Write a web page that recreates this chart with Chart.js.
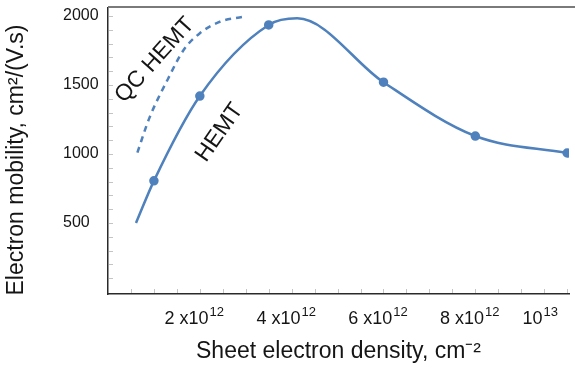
<!DOCTYPE html>
<html>
<head>
<meta charset="utf-8">
<script src="https://cdn.jsdelivr.net/npm/chart.js@4"></script>
<style>
  html, body { margin: 0; padding: 0; background: #fff; }
  #wrap { width: 575px; height: 375px; }
</style>
</head>
<body>
<div id="wrap"><canvas id="mobilityChart"></canvas></div>
<script>
// sheet density in units of 1e12 cm^-2, mobility in cm2/(V.s)
const hemtDensity = [0.61, 1.0, 2.0, 3.5, 4.12, 6.0, 8.0, 10.0];
const hemtMobility = [500, 805, 1420, 1935, 1983, 1520, 1130, 1007];
const hemtMarked = [false, true, true, true, false, true, true, true];
const qcDensity = [0.64, 0.9, 1.3, 1.65, 2.0, 2.45, 2.95];
const qcMobility = [1010, 1260, 1540, 1755, 1875, 1960, 1995];
const yTicks = [500, 1000, 1500, 2000];
const xTicks = [2, 4, 6, 8, 10];
const xTickLabels = [['2 x10', '12'], ['4 x10', '12'], ['6 x10', '12'], ['8 x10', '12'], ['10', '13']];
const yTitle = 'Electron mobility, cm²/(V.s)';

const blue = '#4F81BD';
const ink = '#151515';
const family = '"Liberation Sans", Arial, sans-serif';

const decorations = {
    id: 'decorations',
    afterDraw(chart) {
        const { ctx, chartArea, scales: { x, y } } = chart;
        ctx.save();

        // grey top frame line
        ctx.strokeStyle = '#7a7a7a';
        ctx.lineWidth = 2;
        ctx.beginPath();
        ctx.moveTo(chartArea.left, chartArea.top - 1);
        ctx.lineTo(chart.width, chartArea.top - 1);
        ctx.stroke();

        // faint inward minor ticks
        ctx.strokeStyle = '#c4c4c4';
        ctx.lineWidth = 1;
        ctx.beginPath();
        for (let v = 0.5; v <= 10; v += 0.5) {
            const px = Math.round(x.getPixelForValue(v)) + 0.5;
            ctx.moveTo(px, chartArea.bottom - 1);
            ctx.lineTo(px, chartArea.bottom - 5);
        }
        for (let v = 100; v <= 2000; v += 100) {
            const py = Math.round(y.getPixelForValue(v)) + 0.5;
            ctx.moveTo(chartArea.left + 1, py);
            ctx.lineTo(chartArea.left + 5, py);
        }
        ctx.stroke();

        // x tick labels with superscript exponent
        ctx.fillStyle = ink;
        ctx.textBaseline = 'alphabetic';
        ctx.textAlign = 'left';
        xTicks.forEach((v, i) => {
            const [base, sup] = xTickLabels[i];
            ctx.font = '18px ' + family;
            const wBase = ctx.measureText(base).width;
            ctx.font = '13px ' + family;
            const wSup = ctx.measureText(sup).width;
            const total = wBase + wSup;
            let left = x.getPixelForValue(v) - 6 - total / 2;
            if (i === xTicks.length - 1) left = chartArea.right - 12 - total;
            ctx.font = '18px ' + family;
            ctx.fillText(base, left, chartArea.bottom + 30);
            ctx.font = '13px ' + family;
            ctx.fillText(sup, left + wBase + 1, chartArea.bottom + 22);
        });

        // y axis title
        ctx.font = '23px ' + family;
        ctx.textAlign = 'center';
        ctx.textBaseline = 'middle';
        ctx.save();
        ctx.translate(17, 160);
        ctx.rotate(-Math.PI / 2);
        ctx.fillText(yTitle, 0, 0);
        ctx.restore();

        // rotated curve labels
        ctx.font = '23px ' + family;
        const note = (text, xv, yv, deg) => {
            ctx.save();
            ctx.translate(x.getPixelForValue(xv), y.getPixelForValue(yv));
            ctx.rotate(deg * Math.PI / 180);
            ctx.fillText(text, 0, 0);
            ctx.restore();
        };
        note('QC HEMT', 1.02, 1680, -48);
        note('HEMT', 2.43, 1155, -55);

        ctx.restore();
    }
};

new Chart(document.getElementById('mobilityChart'), {
    type: 'scatter',
    data: {
        datasets: [
            {
                label: 'HEMT',
                data: hemtDensity.map((d, i) => ({ x: d, y: hemtMobility[i] })),
                showLine: true,
                borderColor: blue,
                backgroundColor: blue,
                borderWidth: 2.5,
                pointRadius: hemtMarked.map(m => (m ? 3.5 : 0)),
                pointHoverRadius: 0,
                cubicInterpolationMode: 'monotone'
            },
            {
                label: 'QC HEMT',
                data: qcDensity.map((d, i) => ({ x: d, y: qcMobility[i] })),
                showLine: true,
                borderColor: blue,
                borderWidth: 2.5,
                borderDash: [6, 5],
                pointRadius: 0,
                pointHoverRadius: 0,
                cubicInterpolationMode: 'monotone'
            }
        ]
    },
    options: {
        responsive: true,
        maintainAspectRatio: false,
        animation: false,
        layout: { padding: { top: 8, right: 5, left: 63, bottom: 0 } },
        plugins: {
            legend: { display: false },
            tooltip: { enabled: false }
        },
        scales: {
            x: {
                type: 'linear',
                min: 0,
                max: 10.04,
                grid: { display: false, drawTicks: false },
                border: { color: '#2a2a2a', width: 1.5 },
                ticks: { display: false },
                afterBuildTicks: s => { s.ticks = xTicks.map(v => ({ value: v })); },
                afterFit: s => { s.height = 81; s.paddingLeft = 0; s.paddingRight = 0; },
                title: {
                    display: true,
                    text: 'Sheet electron density, cm⁻²',
                    color: ink,
                    font: { family: family, size: 23 },
                    padding: { top: 0, bottom: 10 }
                }
            },
            y: {
                type: 'linear',
                min: -15,
                max: 2058,
                grid: { display: false, drawTicks: false },
                border: { color: '#2a2a2a', width: 1.5 },
                ticks: {
                    color: ink,
                    font: { family: family, size: 16 },
                    padding: 9,
                    crossAlign: 'far',
                    callback: v => String(v)
                },
                afterBuildTicks: s => { s.ticks = yTicks.map(v => ({ value: v })); },
                afterFit: s => { s.width = 45; s.paddingTop = 0; s.paddingBottom = 0; }
            }
        }
    },
    plugins: [decorations]
});
</script>
</body>
</html>
